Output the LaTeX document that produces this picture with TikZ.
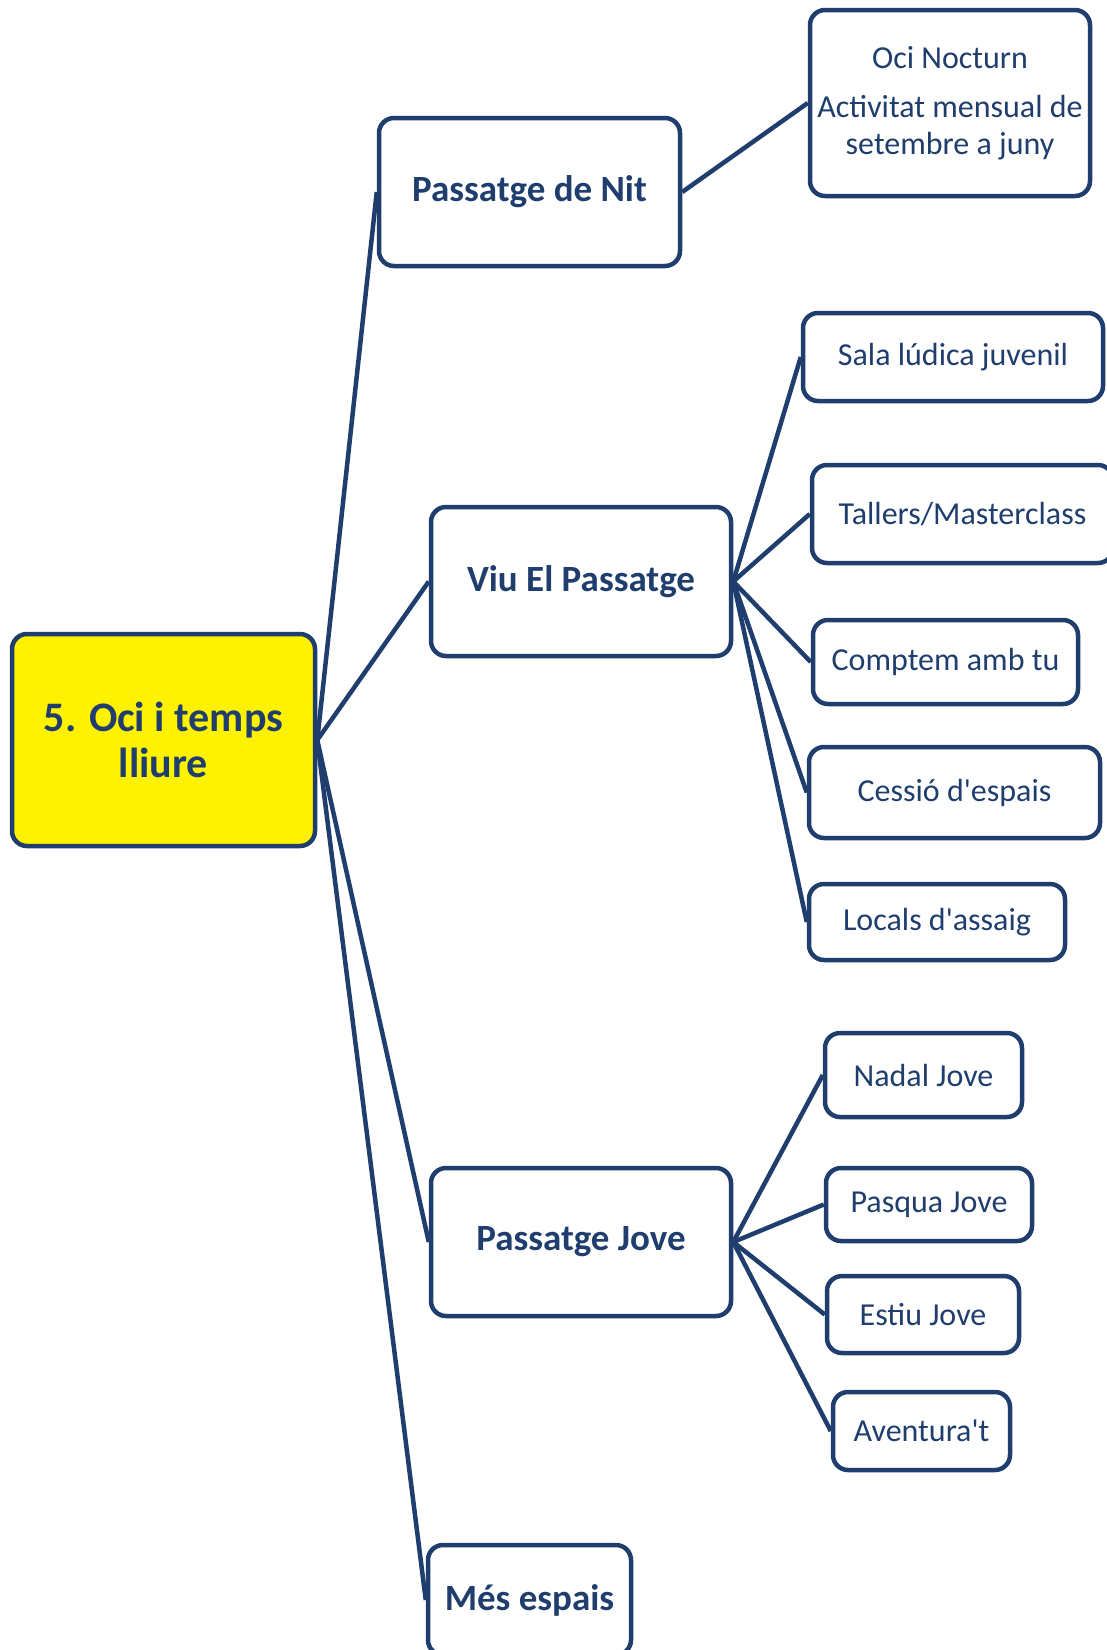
\documentclass[tikz,border=0pt]{standalone}
\usepackage{fontspec}
\newfontfamily\calib{Carlito}
\definecolor{navy}{RGB}{31,62,110}
\begin{document}
\begin{tikzpicture}[x=1pt,y=-1pt,
  box/.style={draw=navy, line width=4.5pt, rounded corners=15pt, fill=white, text=navy, align=center, inner sep=0pt},
  leaf/.style={box, font=\calib\fontsize{32}{37}\selectfont},
  mid/.style={box, font=\calib\fontsize{37}{44}\selectfont\bfseries},
  rootbox/.style={box, fill=yellow, font=\calib\fontsize{42}{46}\selectfont\bfseries},
  link/.style={draw=navy, line width=4.5pt}]
\useasboundingbox (0,0) rectangle (1107,1650);
\fill[white] (0,0) rectangle (1107,1650);

\node[rootbox, minimum width=303pt, minimum height=212pt] (root) at (163.5,740) {5. Oci i temps\\lliure};

\node[mid, minimum width=301pt, minimum height=148pt] (pnit) at (529.5,192) {Passatge de Nit};
\node[mid, minimum width=300pt, minimum height=149pt] (viu) at (581,581.5) {Viu El Passatge};
\node[mid, minimum width=300pt, minimum height=148pt] (pjove) at (581,1242) {Passatge Jove};
\node[mid, minimum width=203pt, minimum height=110pt] (mes) at (529.5,1600) {Més espais};

\node[leaf, minimum width=280pt, minimum height=186pt] (oci) at (950,103) {Oci Nocturn\\[12pt]Activitat mensual de\\setembre a juny};

\node[leaf, minimum width=300pt, minimum height=88pt] (sala) at (953,357) {Sala lúdica juvenil};
\node[leaf, minimum width=301pt, minimum height=98pt] (tallers) at (962.5,514) {Tallers/Masterclass};
\node[leaf, minimum width=265pt, minimum height=84pt] (comptem) at (945.5,662) {Comptem amb tu};
\node[leaf, minimum width=291pt, minimum height=91pt] (cessio) at (954.5,792.5) {Cessió d'espais};
\node[leaf, minimum width=256pt, minimum height=76pt] (locals) at (937,922) {Locals d'assaig};

\node[leaf, minimum width=197pt, minimum height=84pt] (nadal) at (923.5,1075) {Nadal Jove};
\node[leaf, minimum width=206pt, minimum height=73pt] (pasqua) at (929,1204.5) {Pasqua Jove};
\node[leaf, minimum width=192pt, minimum height=77pt] (estiu) at (923,1314.5) {Estiu Jove};
\node[leaf, minimum width=177pt, minimum height=78pt] (aventura) at (921.5,1431) {Aventura't};

\draw[link] (root.east) -- (pnit.west);
\draw[link] (root.east) -- (viu.west);
\draw[link] (root.east) -- (pjove.west);
\draw[link] (root.east) -- (mes.west);
\draw[link] (pnit.east) -- (oci.west);
\foreach \c in {sala,tallers,comptem,cessio,locals} \draw[link] (viu.east) -- (\c.west);
\foreach \c in {nadal,pasqua,estiu,aventura} \draw[link] (pjove.east) -- (\c.west);
\end{tikzpicture}
\end{document}
